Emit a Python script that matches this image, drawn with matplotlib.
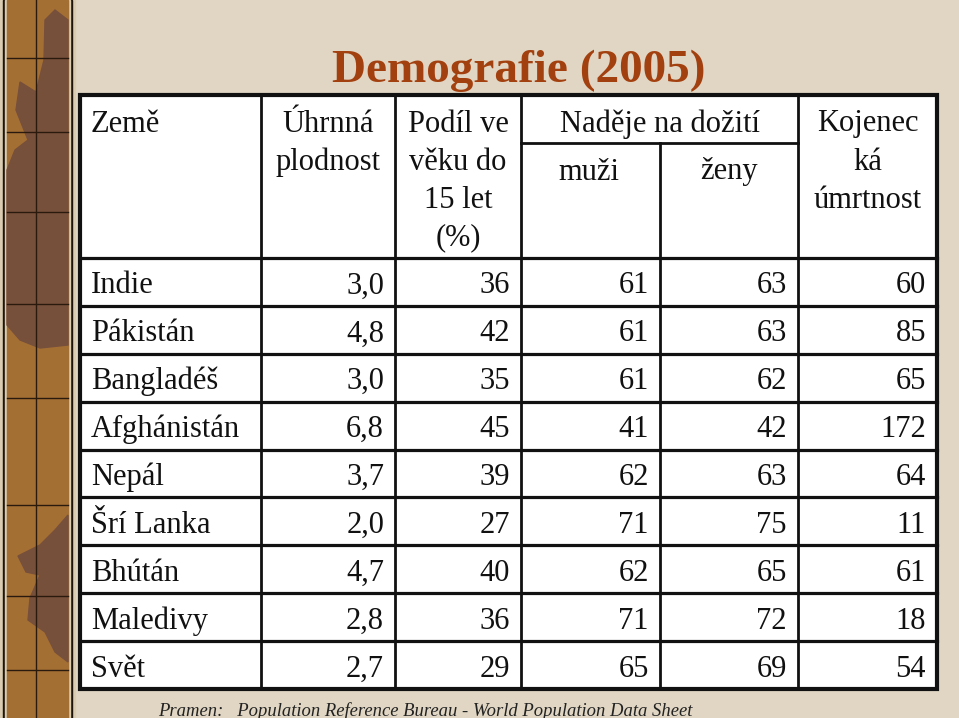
import matplotlib
matplotlib.use('Agg')
import matplotlib.pyplot as plt
from matplotlib.patches import Rectangle, Polygon

# data
countries = ['Indie', 'Pákistán', 'Bangladéš', 'Afghánistán', 'Nepál',
             'Šrí Lanka', 'Bhútán', 'Maledivy', 'Svět']
fertility = [3.0, 4.8, 3.0, 6.8, 3.7, 2.0, 4.7, 2.8, 2.7]
under15 = [36, 42, 35, 45, 39, 27, 40, 36, 29]
life_men = [61, 61, 61, 41, 62, 71, 62, 71, 65]
life_women = [63, 63, 62, 42, 63, 75, 65, 72, 69]
infant_mort = [60, 85, 65, 172, 64, 11, 61, 18, 54]

title = 'Demografie (2005)'
source = 'Pramen:   Population Reference Bureau - World Population Data Sheet'

# layout (pixels)
W, H = 959, 718
col_x = [80, 261, 395, 521, 660, 798, 937]
top, sub_y, head_bot, bot = 95, 143, 258, 689
row_h = (bot - head_bot) / len(countries)
fs = 22
serif = 'Liberation Serif'

fig = plt.figure(figsize=(W / 100, H / 100), dpi=100)
ax = fig.add_axes([0, 0, 1, 1])
ax.set_xlim(0, W)
ax.set_ylim(H, 0)
ax.axis('off')

# background
ax.add_patch(Rectangle((0, 0), W, H, color='#e0d6c3', zorder=0))

# left decorative strip
ax.add_patch(Rectangle((0, 0), 75, H, color='#d9ccb0', zorder=1))
ax.add_patch(Rectangle((3, 0), 69, H, color='#1e140a', zorder=1))
ax.add_patch(Rectangle((5, 0), 65, H, color='#d9ccb0', zorder=1))
ax.add_patch(Rectangle((7, 0), 61, H, color='#a46f33', zorder=1))
blob1 = [(45, 20), (55, 10), (68, 20), (68, 345), (40, 348), (20, 340),
         (7, 325), (7, 170), (15, 150), (28, 140), (16, 110), (20, 82),
         (36, 92), (44, 60)]
blob2 = [(68, 515), (55, 530), (40, 545), (18, 556), (26, 572), (40, 575),
         (30, 598), (28, 620), (45, 632), (55, 652), (68, 662)]
for b in (blob1, blob2):
    ax.add_patch(Polygon(b, closed=True, color='#77503c', zorder=1.5))
for yy in [58, 132, 212, 304, 398, 505, 596, 670]:
    ax.plot([7, 68], [yy, yy], color='#2a1a0e', lw=1, zorder=2)
ax.plot([36, 36], [0, H], color='#2a1a0e', lw=1, zorder=2)

# table
ax.add_patch(Rectangle((col_x[0], top), col_x[-1] - col_x[0], bot - top,
                       facecolor='white', edgecolor='none', zorder=3))
lc = '#111111'
for x in col_x[1:-1]:
    y0 = sub_y if x == col_x[4] else top
    ax.plot([x, x], [y0, bot], color=lc, lw=2, zorder=4)
ax.plot([col_x[3], col_x[5]], [sub_y, sub_y], color=lc, lw=2, zorder=4)
for i in range(len(countries)):
    y = head_bot + i * row_h
    ax.plot([col_x[0], col_x[-1]], [y, y], color=lc, lw=2.3, zorder=4)
ax.add_patch(Rectangle((col_x[0], top), col_x[-1] - col_x[0], bot - top,
                       facecolor='none', edgecolor=lc, lw=3, zorder=5))

# title
ax.text(519, 71, title, fontsize=34, fontweight='bold', color='#a3400f',
        family=serif, ha='center', va='center', zorder=6)

# header
lh = 38
def header(x, y, lines, ha='center'):
    for k, s in enumerate(lines):
        ax.text(x, y + k * lh, s, fontsize=fs, family=serif, ha=ha,
                va='center', color='#111111', zorder=6)

header(91, 124, ['Země'], ha='left')
header((col_x[1] + col_x[2]) / 2, 124, ['Úhrnná', 'plodnost'])
header((col_x[2] + col_x[3]) / 2, 124, ['Podíl ve', 'věku do', '15 let', '(%)'])
header((col_x[3] + col_x[5]) / 2, 124, ['Naděje na dožití'])
header((col_x[3] + col_x[4]) / 2 - 2, 172, ['muži'])
header((col_x[4] + col_x[5]) / 2, 172, ['ženy'])
header((col_x[5] + col_x[6]) / 2, 124, ['Kojenec', 'ká', 'úmrtnost'])

# rows
pad = 11
for i, name in enumerate(countries):
    yc = head_bot + (i + 0.5) * row_h + 4
    ax.text(col_x[0] + pad, yc, name, fontsize=fs, family=serif,
            ha='left', va='center', color='#111111', zorder=6)
    vals = [f'{fertility[i]:.1f}'.replace('.', ','), under15[i],
            life_men[i], life_women[i], infant_mort[i]]
    for j, v in enumerate(vals):
        ax.text(col_x[j + 2] - pad, yc, str(v), fontsize=fs, family=serif,
                ha='right', va='center', color='#111111', zorder=6)

# source
ax.text(158, 711, source, fontsize=13.4, family=serif, style='italic',
        ha='left', va='center', color='#222222', zorder=6)

fig.savefig('out.png', dpi=100)
